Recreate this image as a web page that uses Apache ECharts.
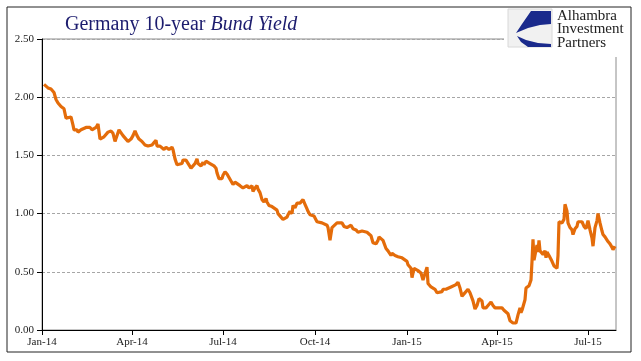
<!DOCTYPE html>
<html><head><meta charset="utf-8">
<script src="https://cdn.jsdelivr.net/npm/echarts@6/dist/echarts.min.js"></script>
<style>html,body{margin:0;padding:0;background:#fff}#c{width:641px;height:361px}</style>
</head><body><div id="c"></div>
<script>
// ---- data ----
const startDate = '2014-01-01';
const endDate = '2015-07-29';
// days since 2014-01-01
const dayOffsets = [
2,6,9,10,12,14,16,19,22,24,26,29,31,32,35,36,39,41,44,46,48,50,52,54,56,58,60,62,64,66,69,71,73,75,77,79,81,84,86,89,91,93,95,97,100,103,106,110,112,114,115,118,
120,122,124,125,127,130,131,133,135,137,140,141,144,146,149,151,153,155,156,159,161,162,164,166,168,170,172,174,175,177,180,181,183,185,187,189,191,193,195,198,201,203,205,207,210,211,213,215,216,218,220,222,224,225,227,230,232,235,236,239,241,243,
245,246,248,250,251,253,255,256,258,260,261,263,265,266,268,270,272,275,277,280,282,285,286,288,290,292,295,297,300,302,305,307,309,311,314,316,318,320,322,325,326,329,331,334,336,337,339,341,344,346,349,350,353,356,360,362,365,366,
367,369,370,372,374,376,379,381,383,385,386,389,391,393,395,397,400,401,404,406,409,411,414,416,418,420,422,424,426,428,431,433,435,437,440,441,444,446,449,451,453,455,457,460,462,464,466,468,471,474,476,478,479,480,482,483,484,486,487,489,490,491,492,494,495,496,497,498,500,501,503,504,505,507,510,512,515,516,517,518,520,522,523,525,526,528,530,531,533,535,536,538,540,542,544,546,548,550,551,553,555,556,558,560,561,563,565,566,568,570,571,573
];
const yields = [
2.11,2.08,2.07,2.08,2.04,1.98,1.95,1.92,1.90,1.82,1.82,1.83,1.76,1.72,1.72,1.70,1.72,1.72,1.74,1.73,1.74,1.72,1.73,1.74,1.77,1.64,1.64,1.66,1.65,1.70,1.71,1.69,1.62,1.63,1.72,1.72,1.67,1.64,1.62,1.64,1.67,1.71,1.67,1.64,1.62,1.59,1.58,1.59,1.61,1.63,1.58,1.58,
1.57,1.55,1.57,1.58,1.55,1.57,1.55,1.47,1.42,1.42,1.43,1.46,1.46,1.45,1.39,1.41,1.43,1.47,1.43,1.41,1.44,1.42,1.45,1.46,1.43,1.42,1.41,1.39,1.35,1.30,1.30,1.33,1.36,1.34,1.31,1.30,1.25,1.27,1.26,1.24,1.22,1.22,1.24,1.22,1.24,1.19,1.22,1.24,1.21,1.18,1.12,1.10,1.13,1.10,1.07,1.06,1.05,1.03,1.00,0.97,0.95,0.94,
0.97,0.99,1.02,1.00,1.07,1.05,1.09,1.08,1.09,1.08,1.12,1.08,1.04,1.02,0.99,1.00,0.98,0.93,0.93,0.92,0.91,0.90,0.88,0.77,0.88,0.88,0.92,0.93,0.92,0.89,0.88,0.88,0.90,0.87,0.86,0.84,0.84,0.85,0.86,0.84,0.83,0.81,0.75,0.74,0.77,0.80,0.80,0.77,0.70,0.68,0.64,0.66,0.64,0.63,0.62,0.61,0.59,0.56,
0.55,0.53,0.45,0.53,0.52,0.51,0.49,0.43,0.43,0.54,0.40,0.37,0.38,0.35,0.32,0.33,0.33,0.35,0.35,0.35,0.37,0.37,0.39,0.41,0.36,0.29,0.31,0.32,0.35,0.32,0.25,0.18,0.21,0.27,0.25,0.19,0.19,0.21,0.24,0.21,0.19,0.19,0.19,0.19,0.17,0.17,0.14,0.08,0.06,0.06,0.13,0.19,0.15,0.17,0.16,0.26,0.36,0.37,0.38,0.43,0.59,0.78,0.60,0.59,0.73,0.67,0.77,0.68,0.67,0.65,0.68,0.62,0.67,0.64,0.59,0.55,0.53,0.64,0.93,0.92,0.92,0.95,1.08,1.02,0.92,0.88,0.86,0.82,0.87,0.89,0.93,0.92,0.93,0.89,0.87,0.94,0.86,0.79,0.72,0.88,0.94,1.00,0.92,0.85,0.82,0.80,0.79,0.76,0.74,0.71,0.69,0.72
];
const yMin = 0, yMax = 2.5, yStep = 0.5;
const monthNames = ['Jan','Feb','Mar','Apr','May','Jun','Jul','Aug','Sep','Oct','Nov','Dec'];

// ---- build category axis (one per calendar day) ----
const DAY = 86400000;
const t0 = Date.parse(startDate), t1 = Date.parse(endDate);
const cats = [];
for (let t = t0; t <= t1; t += DAY) cats.push(new Date(t).toISOString().slice(0,10));
const seriesData = cats.map(() => null);
dayOffsets.forEach((d, i) => { seriesData[d] = yields[i]; });
const isQuarterStart = (idx, val) => { const d = new Date(val); return d.getUTCDate() === 1 && d.getUTCMonth() % 3 === 0; };
const fmtMonth = (val) => { const d = new Date(val); return monthNames[d.getUTCMonth()] + '-' + String(d.getUTCFullYear()).slice(2); };

const serif = '"Liberation Serif", "DejaVu Serif", serif';
const chart = echarts.init(document.getElementById('c'), null, {renderer: 'canvas'});
chart.setOption({
  animation: false,
  backgroundColor: '#fff',
  title: {
    text: '{a|Germany 10-year }{b|Bund Yield}',
    left: 60, top: 10,
    textStyle: { fontWeight: 'normal', rich: {
      a: { fontFamily: serif, fontSize: 20, color: '#1c1c6e', fontWeight: 'normal' },
      b: { fontFamily: serif, fontSize: 20, color: '#1c1c6e', fontStyle: 'italic', fontWeight: 'normal' }
    }}
  },
  grid: { left: 42, right: 25, top: 39, bottom: 31, show: true, borderColor: '#8c8c8c', borderWidth: 1 },
  xAxis: {
    type: 'category', data: cats, boundaryGap: false,
    axisLine: { lineStyle: { color: '#000', width: 1 } },
    axisTick: { interval: isQuarterStart, length: 5, lineStyle: { color: '#000' } },
    axisLabel: { interval: isQuarterStart, formatter: fmtMonth, fontFamily: serif, fontSize: 11, color: '#222', margin: 7 },
    splitLine: { show: false }
  },
  yAxis: {
    type: 'value', min: yMin, max: yMax, interval: yStep,
    axisLine: { show: true, lineStyle: { color: '#000', width: 1 } },
    axisTick: { show: true, length: 5, lineStyle: { color: '#000' } },
    axisLabel: { formatter: v => v.toFixed(2), fontFamily: serif, fontSize: 11, color: '#222', margin: 8 },
    splitLine: { show: true, lineStyle: { color: '#a6a6a6', type: [3, 2], width: 1 } }
  },
  series: [{
    type: 'line', data: seriesData, connectNulls: true, showSymbol: false, symbol: 'none',
    lineStyle: { color: '#E46C0A', width: 3.2 }, z: 5
  }],
  graphic: [
    { type: 'rect', z: 100, shape: { x: 504, y: 8, width: 127, height: 49 }, style: { fill: '#fff' } },
    { type: 'rect', z: 101, shape: { x: 508, y: 9, width: 44, height: 38 }, style: { fill: '#f1f1f1', stroke: '#d8d8d8', lineWidth: 1 } },
    { type: 'polygon', z: 102, shape: { points: [[531,11],[551,11],[551,24],[540,25],[528,28],[516,33],[522,24]] }, style: { fill: '#1a2a8c' } },
    { type: 'polygon', z: 102, shape: { points: [[517,36],[526,40],[538,43],[551,44],[551,47],[528,47],[521,42]] }, style: { fill: '#1a2a8c' } },
    { type: 'text', z: 103, style: { x: 557, y: 9, text: 'Alhambra\nInvestment\nPartners', font: '15px "Liberation Serif", serif', fill: '#222', lineHeight: 13.5 } },
    { type: 'rect', z: 104, shape: { x: 7, y: 7, width: 624, height: 345 }, style: { fill: 'none', stroke: '#222', lineWidth: 1 } }
  ]
});
</script>
</body></html>
